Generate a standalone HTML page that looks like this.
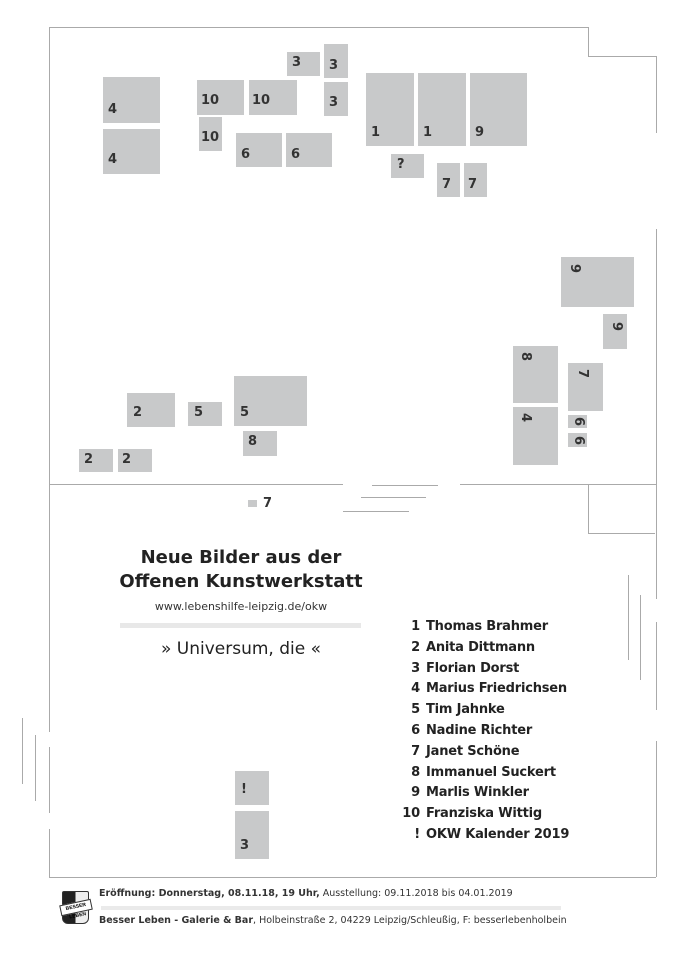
<!DOCTYPE html>
<html><head><meta charset="utf-8"><style>
body{margin:0;width:682px;height:967px;background:#fff;position:relative;overflow:hidden;font-family:"Liberation Sans","DejaVu Sans",sans-serif}
.l{position:absolute;background:#aaa}
.b{position:absolute;background:#c8c9ca}
.t{position:absolute;font-family:"DejaVu Sans",sans-serif;font-weight:bold;font-size:13px;color:#333;line-height:1}
.r{transform:rotate(90deg)}
.li{position:absolute;left:396px;font-family:"DejaVu Sans",sans-serif;font-weight:bold;font-size:13px;color:#222;line-height:1;letter-spacing:-0.2px}
.li span{display:inline-block;width:24px;text-align:right;margin-right:6px}
</style></head><body>
<div class="l" style="left:49px;top:27px;width:539px;height:1px"></div>
<div class="l" style="left:588px;top:27px;width:1px;height:30px"></div>
<div class="l" style="left:588px;top:56px;width:68px;height:1px"></div>
<div class="l" style="left:656px;top:56px;width:1px;height:77px"></div>
<div class="l" style="left:49px;top:27px;width:1px;height:705px"></div>
<div class="l" style="left:49px;top:747px;width:1px;height:66px"></div>
<div class="l" style="left:49px;top:829px;width:1px;height:48px"></div>
<div class="l" style="left:49px;top:877px;width:607px;height:1px"></div>
<div class="l" style="left:656px;top:229px;width:1px;height:370px"></div>
<div class="l" style="left:656px;top:622px;width:1px;height:88px"></div>
<div class="l" style="left:656px;top:741px;width:1px;height:136px"></div>
<div class="l" style="left:49px;top:484px;width:294px;height:1px"></div>
<div class="l" style="left:460px;top:484px;width:196px;height:1px"></div>
<div class="l" style="left:372px;top:485px;width:66px;height:1px"></div>
<div class="l" style="left:361px;top:497px;width:65px;height:1px"></div>
<div class="l" style="left:343px;top:511px;width:66px;height:1px"></div>
<div class="l" style="left:588px;top:484px;width:1px;height:49px"></div>
<div class="l" style="left:588px;top:533px;width:67px;height:1px"></div>
<div class="l" style="left:628px;top:575px;width:1px;height:85px"></div>
<div class="l" style="left:640px;top:595px;width:1px;height:85px"></div>
<div class="l" style="left:22px;top:718px;width:1px;height:66px"></div>
<div class="l" style="left:35px;top:735px;width:1px;height:66px"></div>
<div class="b" style="left:103px;top:77px;width:57px;height:46px"></div><div class="t" style="left:108px;top:103px">4</div>
<div class="b" style="left:103px;top:129px;width:57px;height:45px"></div><div class="t" style="left:108px;top:153px">4</div>
<div class="b" style="left:197px;top:80px;width:47px;height:35px"></div><div class="t" style="left:201px;top:94px">10</div>
<div class="b" style="left:249px;top:80px;width:48px;height:35px"></div><div class="t" style="left:252px;top:94px">10</div>
<div class="b" style="left:199px;top:117px;width:23px;height:34px"></div><div class="t" style="left:201px;top:131px">10</div>
<div class="b" style="left:287px;top:52px;width:33px;height:24px"></div><div class="t" style="left:292px;top:56px">3</div>
<div class="b" style="left:324px;top:44px;width:24px;height:34px"></div><div class="t" style="left:329px;top:59px">3</div>
<div class="b" style="left:324px;top:82px;width:24px;height:34px"></div><div class="t" style="left:329px;top:96px">3</div>
<div class="b" style="left:236px;top:133px;width:46px;height:34px"></div><div class="t" style="left:241px;top:148px">6</div>
<div class="b" style="left:286px;top:133px;width:46px;height:34px"></div><div class="t" style="left:291px;top:148px">6</div>
<div class="b" style="left:366px;top:73px;width:48px;height:73px"></div><div class="t" style="left:371px;top:126px">1</div>
<div class="b" style="left:418px;top:73px;width:48px;height:73px"></div><div class="t" style="left:423px;top:126px">1</div>
<div class="b" style="left:470px;top:73px;width:57px;height:73px"></div><div class="t" style="left:475px;top:126px">9</div>
<div class="b" style="left:391px;top:154px;width:33px;height:24px"></div><div class="t" style="left:397px;top:158px">?</div>
<div class="b" style="left:437px;top:163px;width:23px;height:34px"></div><div class="t" style="left:442px;top:178px">7</div>
<div class="b" style="left:464px;top:163px;width:23px;height:34px"></div><div class="t" style="left:468px;top:178px">7</div>
<div class="b" style="left:561px;top:257px;width:73px;height:50px"></div><div class="t r" style="left:570px;top:262px">9</div>
<div class="b" style="left:603px;top:314px;width:24px;height:35px"></div><div class="t r" style="left:612px;top:320px">9</div>
<div class="b" style="left:513px;top:346px;width:45px;height:57px"></div><div class="t r" style="left:521px;top:350px">8</div>
<div class="b" style="left:568px;top:363px;width:35px;height:48px"></div><div class="t r" style="left:578px;top:367px">7</div>
<div class="b" style="left:513px;top:407px;width:45px;height:58px"></div><div class="t r" style="left:521px;top:411px">4</div>
<div class="b" style="left:568px;top:415px;width:19px;height:13px"></div><div class="t r" style="left:574px;top:415px">6</div>
<div class="b" style="left:568px;top:433px;width:19px;height:14px"></div><div class="t r" style="left:574px;top:434px">6</div>
<div class="b" style="left:127px;top:393px;width:48px;height:34px"></div><div class="t" style="left:133px;top:406px">2</div>
<div class="b" style="left:188px;top:402px;width:34px;height:24px"></div><div class="t" style="left:194px;top:406px">5</div>
<div class="b" style="left:234px;top:376px;width:73px;height:50px"></div><div class="t" style="left:240px;top:406px">5</div>
<div class="b" style="left:243px;top:431px;width:34px;height:25px"></div><div class="t" style="left:248px;top:435px">8</div>
<div class="b" style="left:79px;top:449px;width:34px;height:23px"></div><div class="t" style="left:84px;top:453px">2</div>
<div class="b" style="left:118px;top:449px;width:34px;height:23px"></div><div class="t" style="left:122px;top:453px">2</div>
<div class="b" style="left:248px;top:500px;width:9px;height:7px"></div><div class="t" style="left:263px;top:497px">7</div>
<div class="b" style="left:235px;top:771px;width:34px;height:34px"></div><div class="t" style="left:241px;top:783px">!</div>
<div class="b" style="left:235px;top:811px;width:34px;height:48px"></div><div class="t" style="left:240px;top:839px">3</div>
<div style="position:absolute;left:100px;width:282px;top:546px;text-align:center;font-family:'DejaVu Sans',sans-serif;font-weight:bold;font-size:18px;line-height:24px;color:#222">Neue Bilder aus der<br>Offenen Kunstwerkstatt</div>
<div style="position:absolute;left:100px;width:282px;top:600px;text-align:center;font-family:'DejaVu Sans',sans-serif;font-size:11px;color:#333">www.lebenshilfe-leipzig.de/okw</div>
<div style="position:absolute;left:120px;top:623px;width:241px;height:5px;background:#e8e8e8"></div>
<div style="position:absolute;left:100px;width:282px;top:639px;text-align:center;font-family:'DejaVu Sans',sans-serif;font-size:17px;color:#222">» Universum, die «</div>
<div class="li" style="top:620px"><span>1</span>Thomas Brahmer</div>
<div class="li" style="top:641px"><span>2</span>Anita Dittmann</div>
<div class="li" style="top:662px"><span>3</span>Florian Dorst</div>
<div class="li" style="top:682px"><span>4</span>Marius Friedrichsen</div>
<div class="li" style="top:703px"><span>5</span>Tim Jahnke</div>
<div class="li" style="top:724px"><span>6</span>Nadine Richter</div>
<div class="li" style="top:745px"><span>7</span>Janet Schöne</div>
<div class="li" style="top:766px"><span>8</span>Immanuel Suckert</div>
<div class="li" style="top:786px"><span>9</span>Marlis Winkler</div>
<div class="li" style="top:807px"><span>10</span>Franziska Wittig</div>
<div class="li" style="top:828px"><span>!</span>OKW Kalender 2019</div>
<div style="position:absolute;left:62px;top:891px;width:25px;height:31px;border:1px solid #333;border-radius:2px 2px 6px 6px;background:linear-gradient(90deg,#222 0 50%,#eee 50%)"></div>
<div style="position:absolute;left:60px;top:902px;width:30px;height:9px;background:#fff;border:1px solid #333;font-size:5px;line-height:9px;text-align:center;transform:rotate(-12deg);font-weight:bold">BESSER LEBEN</div>
<div style="position:absolute;left:99px;top:888px;font-family:'DejaVu Sans',sans-serif;font-size:9.5px;color:#333;white-space:nowrap"><b>Eröffnung: Donnerstag, 08.11.18, 19 Uhr,</b> Ausstellung: 09.11.2018 bis 04.01.2019</div>
<div style="position:absolute;left:101px;top:906px;width:460px;height:4px;background:#eaeaea"></div>
<div style="position:absolute;left:99px;top:915px;font-family:'DejaVu Sans',sans-serif;font-size:9.5px;color:#333;white-space:nowrap"><b>Besser Leben - Galerie &amp; Bar</b>, Holbeinstraße 2, 04229 Leipzig/Schleußig, F: besserlebenholbein</div>
</body></html>
